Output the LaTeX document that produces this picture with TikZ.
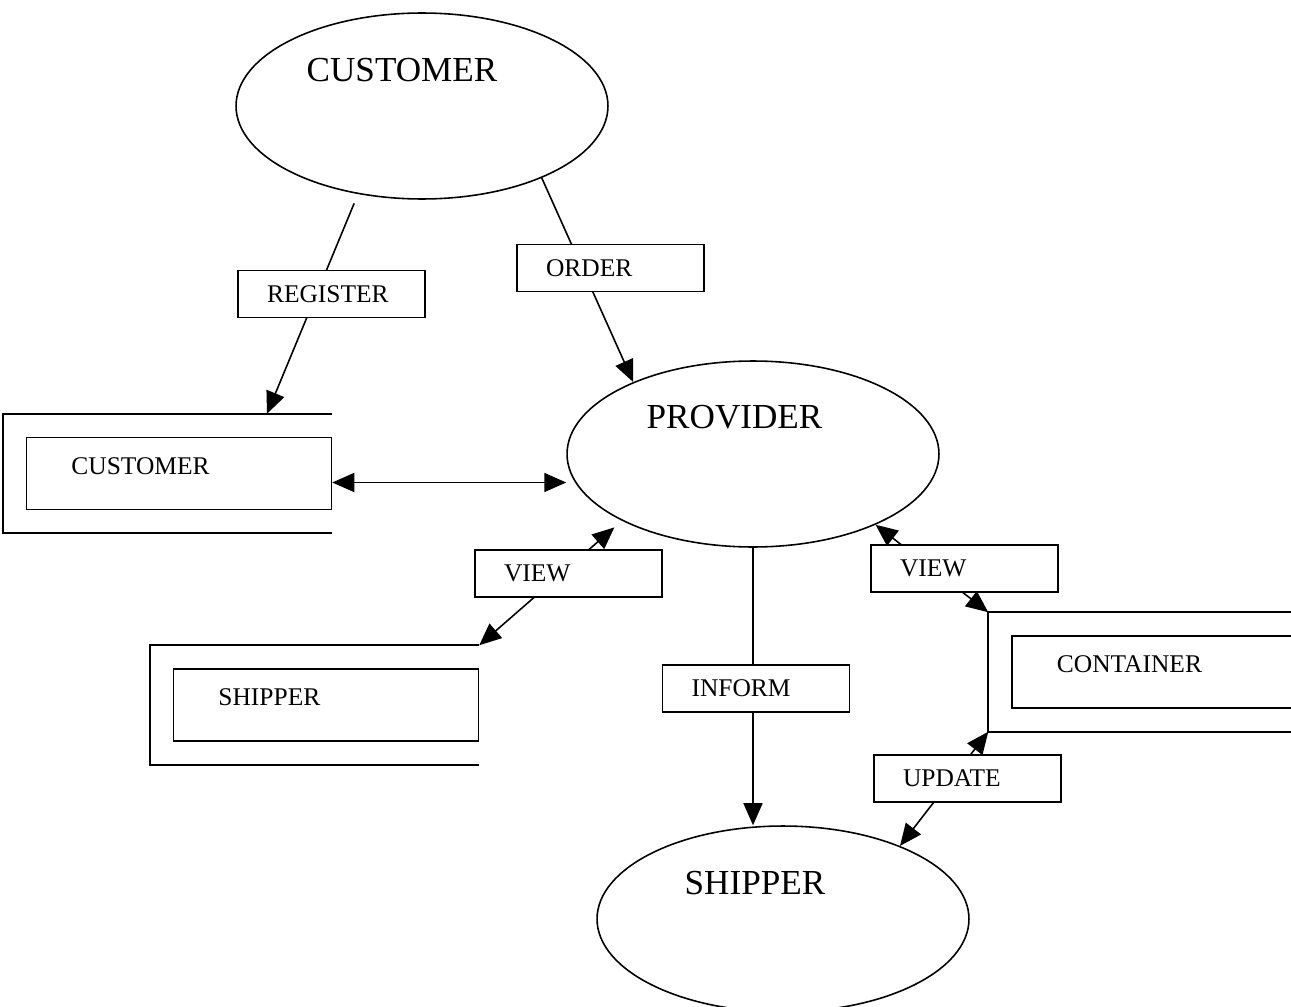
\documentclass[tikz,border=0pt]{standalone}
\usepackage{fontspec}
\setmainfont{Liberation Serif}
\usetikzlibrary{calc,arrows.meta,shapes.geometric}
\def\dbframe(#1){\draw ([yshift=0.46cm]#1.north east) -| ([shift={(-0.46cm,-0.46cm)}]#1.south west) -- ([yshift=-0.46cm]#1.south east);}

\begin{document}
\begin{tikzpicture}[x=0.02cm, y=-0.02cm, line width=0.9pt,
	proc/.style={draw, ellipse, minimum width=7.44cm, minimum height=3.72cm, inner sep=0pt},
	proctext/.style={font=\fontsize{20}{24}\selectfont},
	flowbox/.style={draw, fill=white, minimum height=0.94cm, text width=2.58cm, inner xsep=0.58cm, align=left, font=\fontsize{14.5}{17}\selectfont},
	dbbox/.style={draw, minimum width=6.1cm, minimum height=1.44cm, inner sep=0pt},
	dbtext/.style={anchor=west, xshift=0.78cm, yshift=0.15cm, font=\fontsize{14.5}{17}\selectfont},
	oneway/.style={-{Triangle[length=4.4mm,width=3.8mm]}},
	twoway/.style={{Triangle[length=4.4mm,width=3.8mm]}-{Triangle[length=4.4mm,width=3.8mm]}}]
		%%%%% START %%%%%
		
		\useasboundingbox (0,0) rectangle (1291,1007);
		\clip (0,0) rectangle (1291,1007);
		
		\node[proc, label={[proctext,xshift=-0.4cm,yshift=0.71cm]center:CUSTOMER}] (cust) at (422,106) {};
		\node[proc, label={[proctext,xshift=-0.37cm,yshift=0.73cm]center:PROVIDER}] (prov) at (753,454) {};
		\node[proc, label={[proctext,xshift=-0.56cm,yshift=0.71cm]center:SHIPPER}] (ship) at (783,919) {};
		
		\node[dbbox, label={[dbtext]west:CUSTOMER}] (custdb) at (179,473.5) {};
		\node[dbbox, label={[dbtext]west:SHIPPER}] (shipdb) at (326,705) {};
		\node[dbbox, label={[dbtext]west:CONTAINER}] (contdb) at (1164.5,672) {};
		\dbframe(custdb)
		\dbframe(shipdb)
		\dbframe(contdb)
		
		\coordinate (custdb-in) at ([shift={(1.76cm,0.46cm)}]custdb.north);
		\coordinate (custdb-out) at ([yshift=-0.18cm]custdb.east);
		\coordinate (shipdb-in) at ([yshift=0.46cm]shipdb.north east);
		\coordinate (contdb-top) at ([shift={(-0.46cm,0.46cm)}]contdb.north west);
		\coordinate (contdb-bot) at ([shift={(-0.46cm,-0.46cm)}]contdb.south west);
		
		\draw[oneway, shorten <=0.2cm] (cust.234) -- (custdb-in);
		\draw[oneway] (cust.329) -- (prov.149);
		\draw[twoway] (custdb-out) -- (custdb-out -| prov.west);
		\draw[twoway, shorten >=0.2cm] (shipdb-in) -- (prov.207);
		\draw[twoway] (prov.330) -- (contdb-top);
		\draw[oneway] (prov.south) -- (prov.south |- ship.north);
		\draw[twoway] (contdb-bot) -- (ship.32);
		
		\node[flowbox] (register) at (331.5,294) {REGISTER};
		\node[flowbox] (order) at (610.5,268) {ORDER};
		\node[flowbox] (viewl) at (568.5,573.5) {VIEW};
		\node[flowbox] (viewr) at (964.5,568.5) {VIEW};
		\node[flowbox] (inform) at (756,688.5) {INFORM};
		\node[flowbox] (update) at (967.5,778.5) {UPDATE};
		
		%%%%% END %%%%%
\end{tikzpicture}
\end{document}
